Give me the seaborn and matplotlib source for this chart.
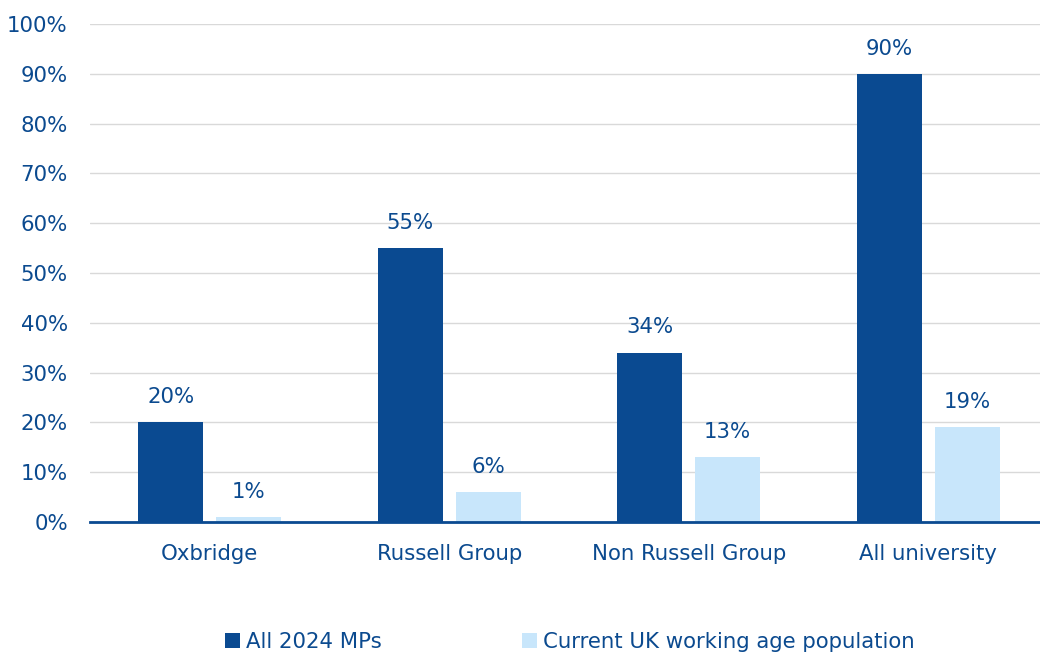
import numpy as np
import pandas as pd
import matplotlib
matplotlib.use("Agg")
import matplotlib.pyplot as plt
import seaborn as sns

# Data
categories = ["Oxbridge", "Russell Group", "Non Russell Group", "All university"]
series_names = ["All 2024 MPs", "Current UK working age population"]
mps_2024 = [20, 55, 34, 90]
working_age = [1, 6, 13, 19]

dark_blue = "#0A4A91"
light_blue = "#C8E6FB"
text_col = "#0B4A8F"
fs = 15.3

df = pd.DataFrame({
    "Category": categories * 2,
    "Series": [series_names[0]] * 4 + [series_names[1]] * 4,
    "Value": mps_2024 + working_age,
})

sns.set_style("white")
plt.rcParams["font.family"] = ["DejaVu Sans"]

fig = plt.figure(figsize=(10.4, 6.52), dpi=100)
ax = fig.add_axes([90 / 1040, 130 / 652, 958 / 1040, 498 / 652])

sns.barplot(
    data=df, x="Category", y="Value", hue="Series",
    palette=[dark_blue, light_blue], width=0.65, gap=0.167,
    saturation=1, linewidth=0, ax=ax, legend=True,
)

# value labels
for cont in ax.containers:
    ax.bar_label(cont, labels=[f"{v:.0f}%" for v in cont.datavalues],
                 padding=11, fontsize=fs, color=text_col)

ax.set_ylim(0, 100)
ax.set_yticks(np.arange(0, 101, 10))
ax.set_yticklabels([f"{t}%" for t in range(0, 101, 10)])
ax.set_xlim(-0.5, 3.5)
ax.yaxis.grid(True, color="#D9D9D9", linewidth=1)
ax.set_axisbelow(True)
ax.set_xlabel("")
ax.set_ylabel("")
for s in ["top", "right", "left"]:
    ax.spines[s].set_visible(False)
ax.spines["bottom"].set_color(dark_blue)
ax.spines["bottom"].set_linewidth(2)
ax.tick_params(axis="both", length=0, labelsize=fs, colors=text_col)
ax.tick_params(axis="x", pad=16)
ax.tick_params(axis="y", pad=16)

handles, labels = ax.get_legend_handles_labels()
ax.get_legend().remove()
leg = fig.legend(handles, labels, loc="center", bbox_to_anchor=(570 / 1040, 10 / 652),
                 ncol=2, frameon=False, fontsize=fs, handlelength=0.7, handleheight=0.7,
                 handletextpad=0.3, columnspacing=6.6)
for t in leg.get_texts():
    t.set_color(text_col)

fig.savefig("out.png", dpi=100)
